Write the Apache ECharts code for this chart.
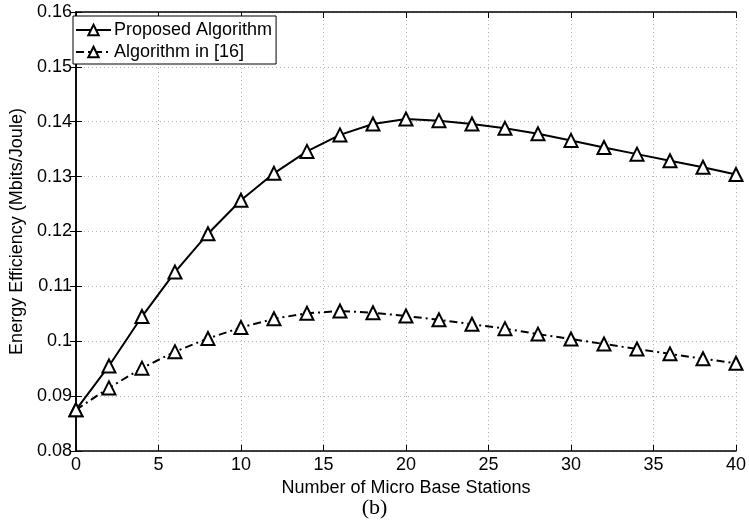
<!DOCTYPE html>
<html>
<head>
<meta charset="utf-8">
<script src="https://cdn.jsdelivr.net/npm/echarts@6/dist/echarts.min.js"></script>
<style>
  html, body { margin: 0; padding: 0; background: #fff; }
  #chart { width: 749px; height: 525px; }
</style>
</head>
<body>
<div id="chart"></div>
<script>
// Number of micro base stations (x values)
const stations = [0, 2, 4, 6, 8, 10, 12, 14, 16, 18, 20, 22, 24, 26, 28, 30, 32, 34, 36, 38, 40];
// Energy efficiency (Mbits/Joule)
const proposed = [0.0875, 0.0955, 0.1045, 0.1126, 0.1196, 0.1257, 0.1306, 0.1346, 0.1376, 0.1396, 0.1405,
                  0.1402, 0.1396, 0.1388, 0.1378, 0.1366, 0.1353, 0.1341, 0.1329, 0.1317, 0.1304];
const reference16 = [0.0875, 0.0915, 0.0951, 0.0981, 0.1005, 0.1025, 0.1041, 0.1051, 0.1055, 0.1052, 0.1046,
                     0.1039, 0.1031, 0.1023, 0.1013, 0.1004, 0.0995, 0.0986, 0.0977, 0.0968, 0.0960];
const seriesNames = ['Proposed Algorithm', 'Algorithm in [16]'];
const xTitle = 'Number of Micro Base Stations';
const yTitle = 'Energy Efficiency (Mbits/Joule)';
const caption = '(b)';

const FONT = '"Liberation Sans", Arial, sans-serif';
const FS = 18;
const pairs = ys => stations.map((x, i) => [x, ys[i]]);

const gridLine = { show: true, lineStyle: { color: '#b0b0b0', type: [1, 3], width: 1 } };
const tickIn = { show: true, inside: true, length: 6, lineStyle: { color: '#000', width: 1 } };
const axisLine = { show: true, lineStyle: { color: '#000', width: 1.5 } };

const chart = echarts.init(document.getElementById('chart'), null, { renderer: 'canvas' });
chart.setOption({
  animation: false,
  backgroundColor: '#fff',
  textStyle: { fontFamily: FONT },
  title: {
    text: caption,
    left: 'center',
    top: 497,
    padding: 0,
    textStyle: { fontFamily: '"Liberation Serif", "DejaVu Serif", serif', fontSize: 22, fontWeight: 'normal', color: '#000' }
  },
  grid: { left: 71, right: 11, top: 12, bottom: 74, containLabel: false },
  legend: {
    left: 73, top: 16,
    orient: 'vertical',
    backgroundColor: '#fff',
    borderColor: '#000', borderWidth: 1,
    padding: [5, 4, 3, 2],
    itemGap: 4,
    itemWidth: 35, itemHeight: 13,
    textStyle: { fontFamily: FONT, fontSize: FS, color: '#000', padding: [0, 0, 0, -2] },
    data: seriesNames
  },
  xAxis: [{
    type: 'value', min: 0, max: 40, interval: 5,
    name: xTitle, nameLocation: 'middle', nameGap: 22,
    nameTextStyle: { fontFamily: FONT, fontSize: FS, color: '#000' },
    axisLine, axisTick: tickIn, splitLine: gridLine,
    axisLabel: { fontFamily: FONT, fontSize: FS, color: '#000', margin: 5 }
  }, {
    type: 'value', position: 'top', min: 0, max: 40, interval: 5,
    axisLine, axisTick: tickIn, axisLabel: { show: false }, splitLine: { show: false }
  }],
  yAxis: [{
    type: 'value', min: 0.08, max: 0.16, interval: 0.01,
    name: yTitle, nameLocation: 'middle', nameGap: 46, nameRotate: 90,
    nameTextStyle: { fontFamily: FONT, fontSize: FS, color: '#000' },
    axisLine, axisTick: tickIn, splitLine: gridLine,
    axisLabel: { fontFamily: FONT, fontSize: FS, color: '#000', margin: 4,
                 formatter: v => String(parseFloat(v.toFixed(4))) }
  }, {
    type: 'value', position: 'right', min: 0.08, max: 0.16, interval: 0.01,
    axisLine, axisTick: tickIn, axisLabel: { show: false }, splitLine: { show: false }
  }],
  series: [{
    name: seriesNames[0],
    type: 'line',
    data: pairs(proposed),
    symbol: 'triangle', symbolSize: 13,
    showAllSymbol: true,
    lineStyle: { color: '#000', width: 2, type: 'solid' },
    itemStyle: { color: '#fff', borderColor: '#000', borderWidth: 2 },
    z: 3
  }, {
    name: seriesNames[1],
    type: 'line',
    data: pairs(reference16),
    symbol: 'triangle', symbolSize: 13,
    showAllSymbol: true,
    lineStyle: { color: '#000', width: 2, type: [8, 4, 2, 4] },
    itemStyle: { color: '#fff', borderColor: '#000', borderWidth: 2 },
    z: 3
  }]
});
</script>
</body>
</html>
